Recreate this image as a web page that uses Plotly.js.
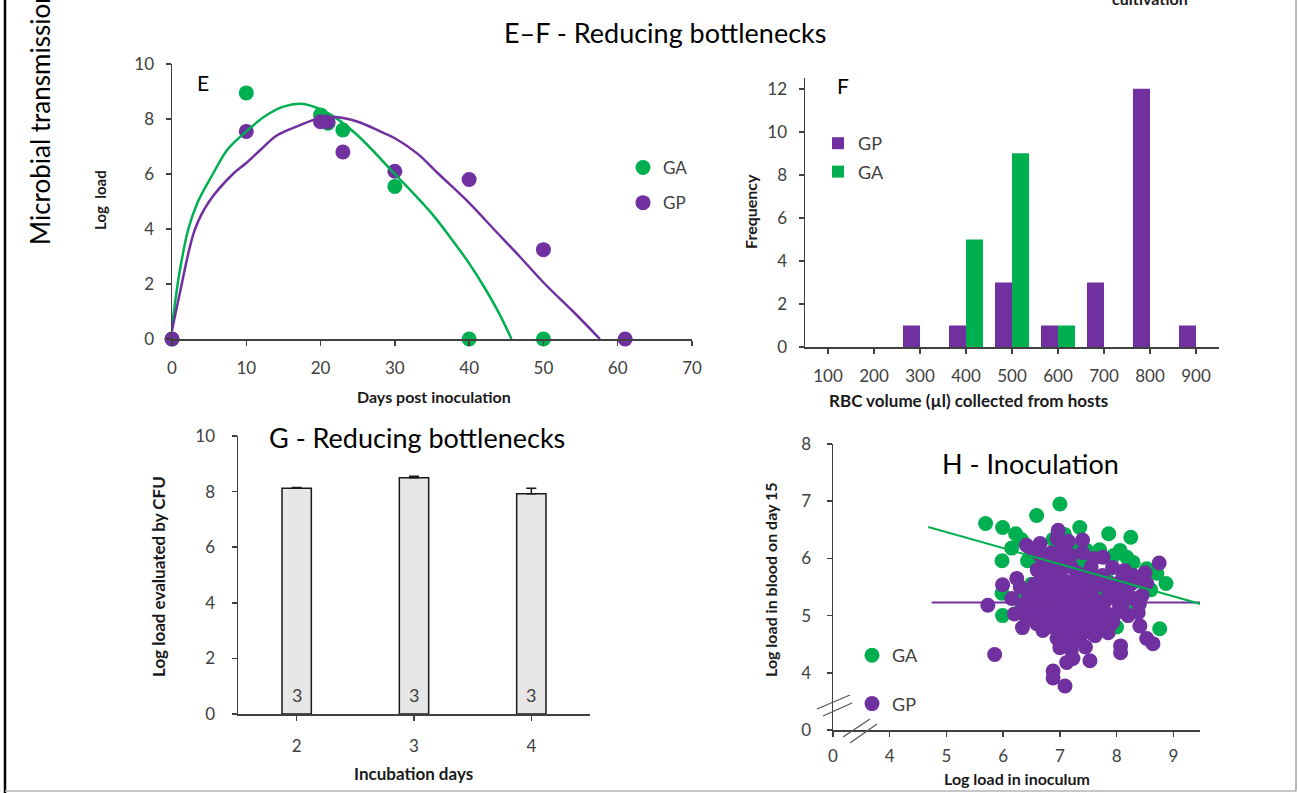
<!DOCTYPE html>
<html>
<head>
<meta charset="utf-8">
<script src="https://cdn.plot.ly/plotly-3.0.1.min.js"></script>
<style>html,body{margin:0;padding:0;background:#fff;}#chart{width:1298px;height:793px;}</style>
</head>
<body>
<div id="chart"></div>
<script>
// ---------- Panel E : log load vs days post inoculation ----------
const eGaDays = [0, 10, 20, 21, 23, 30, 40, 50];
const eGaLoad = [0, 8.95, 8.15, 7.85, 7.6, 5.55, 0, 0];
const eGpDays = [0, 10, 20, 21, 23, 30, 40, 50, 61];
const eGpLoad = [0, 7.55, 7.9, 7.9, 6.8, 6.1, 5.8, 3.25, 0];
// trend curves
const eGaTrendDays = [0, 1, 2.2, 3.5, 5.5, 7.5, 9.8, 12.5, 15, 17.4, 20, 22, 25, 30, 35, 38, 40, 42, 44, 45.7];
const eGaTrendLoad = [0.45, 2.4, 4.0, 5.0, 6.0, 6.9, 7.5, 8.1, 8.45, 8.55, 8.35, 8.05, 7.4, 6.0, 4.55, 3.5, 2.75, 1.9, 0.95, 0];
const eGpTrendDays = [0, 1, 3.1, 5, 8.2, 10, 12, 14.1, 17, 19.5, 22, 25, 28, 30, 33, 35.9, 40, 43.3, 46.8, 50.2, 54, 57.6];
const eGpTrendLoad = [0.3, 1.6, 4.0, 5.0, 6.0, 6.4, 6.9, 7.4, 7.75, 8.0, 8.07, 7.9, 7.55, 7.3, 6.75, 6.0, 4.95, 4.0, 3.0, 2.0, 1.0, 0];

// ---------- Panel F : RBC volume frequency ----------
const fVolumes = ['100', '200', '300', '400', '500', '600', '700', '800', '900'];
const fGpFreq = [0, 0, 1, 1, 3, 1, 3, 12, 1];
const fGaFreq = [0, 0, 0, 5, 9, 1, 0, 0, 0];

// ---------- Panel G : incubation days ----------
const gDays = ['2', '3', '4'];
const gLoad = [8.12, 8.5, 7.92];
const gErr = [0.03, 0.05, 0.2];
const gN = [3, 3, 3];

// ---------- Panel H : inoculation ----------
const hGaInoc = [5.69,5.99,6.59,7.00,7.35,7.86,8.25,6.22,6.32,6.15,5.98,6.43,6.59,6.88,7.08,7.18,7.47,7.58,7.70,8.06,8.18,8.29,8.53,8.71,8.87,8.76,5.98,5.99,6.29,6.30,6.35,7.00,6.98,7.93,8.00,8.20,7.53,7.85,7.25,6.75,6.50,7.95,8.40,8.12,6.80,7.40,7.70,6.50,6.60,8.35,7.60,7.30,6.95,8.60];
const hGaBlood = [6.61,6.54,6.75,6.95,6.54,6.43,6.37,6.43,6.33,6.18,5.96,5.96,5.88,6.33,6.42,6.25,6.14,6.05,6.15,6.14,6.02,5.93,5.82,5.74,5.56,4.77,5.39,5.00,5.05,5.25,5.45,5.03,4.90,4.91,4.80,5.30,5.61,5.60,5.85,6.05,6.12,6.05,5.60,5.50,5.70,5.95,5.35,5.55,5.20,5.10,4.95,6.10,6.15,5.45];
const hGpInoc = [5.85,5.73,5.99,6.24,6.20,6.34,6.15,6.41,6.65,6.97,7.40,8.75,8.53,8.38,8.41,8.53,8.64,8.07,8.07,7.53,7.35,7.09,6.88,6.88,7.12,7.23,7.00,7.12,6.70,6.59,7.62,7.93,7.76,7.93,8.14,8.29,6.50,6.85,7.05,6.95,7.20,7.10,6.75,6.60,6.55,6.70,6.65,6.55,6.80,6.75,6.90,6.90,6.95,7.05,7.00,7.10,7.15,7.20,7.25,7.30,7.35,7.30,7.40,7.45,7.50,7.55,7.45,7.60,7.65,7.70,7.70,7.80,7.85,7.80,7.95,8.00,8.05,8.10,8.15,8.20,8.25,8.30,8.45,8.50,8.40,7.15,7.25,7.00,6.85,7.55,7.85,6.30,6.35,6.40,6.45,6.45,6.80,7.40,7.60,6.65,7.15,7.05,6.95,7.20,7.35,6.60,7.50,7.75,8.00,8.35,7.45,7.20,6.95,
  6.70,6.80,6.85,6.95,7.00,7.05,7.10,7.15,7.20,7.25,7.30,7.35,7.40,7.45,7.50,7.55,7.60,7.65,6.75,6.85,7.00,7.05,7.25,7.45,7.60,7.90,8.05,8.20,8.10,7.75,6.60,6.95,7.20,7.10];
const hGpBlood = [4.32,5.18,5.54,5.65,5.03,4.79,5.30,6.23,6.26,6.49,6.32,5.92,5.56,5.05,4.82,4.60,4.51,4.47,4.35,4.21,4.56,3.77,4.03,3.91,4.18,4.25,4.44,4.51,4.74,4.86,4.65,4.88,6.02,5.84,5.79,5.70,6.15,6.10,6.20,6.35,6.05,5.90,5.95,5.80,5.55,5.50,5.30,5.10,5.20,4.95,5.40,5.65,5.85,5.45,5.20,5.00,4.85,5.30,5.60,5.75,5.40,5.10,4.90,5.20,5.50,5.85,5.65,5.30,5.05,4.85,5.55,5.25,5.45,5.05,5.35,5.55,5.20,5.65,5.40,5.00,5.55,5.30,5.35,5.75,5.20,4.70,4.75,4.70,4.80,4.70,4.70,5.50,5.20,5.00,5.35,4.95,5.75,6.10,6.00,6.05,6.30,6.00,5.05,5.15,4.70,4.95,5.00,5.70,5.05,5.65,4.45,4.40,4.60,
  5.65,5.45,5.30,5.55,5.75,5.35,5.60,5.15,5.45,5.00,5.55,5.25,5.70,5.40,5.20,5.45,5.65,5.20,5.10,4.95,5.10,4.85,4.95,5.05,4.85,5.55,5.45,5.70,5.15,5.15,5.40,5.95,5.85,6.10];
// regression lines
const hGaFitInoc = [4.68, 9.49];
const hGaFitBlood = [6.55, 5.2];
const hGpFitInoc = [4.74, 9.49];
const hGpFitBlood = [5.23, 5.23];
// broken axes: value 3 is labelled 0
const hXTickVals = [3, 4, 5, 6, 7, 8, 9];
const hXTickText = ['0', '4', '5', '6', '7', '8', '9'];
const hYTickVals = [3, 4, 5, 6, 7, 8];
const hYTickText = ['0', '4', '5', '6', '7', '8'];

// ---------- styling ----------
const GREEN = '#00B050', PURPLE = '#7030A0';
const FONT = 'Lato, "Open Sans", sans-serif';
const AX = '#404040';
const W = 1298, H = 793;
const px = v => v / W;
const py = v => 1 - v / H;

function axis(extra) {
  return Object.assign({
    showgrid: false, zeroline: false, showline: true, linecolor: AX, linewidth: 1.5,
    ticks: 'outside', ticklen: 5, tickwidth: 1.5, tickcolor: AX,
    tickfont: {family: FONT, size: 17, color: AX}, fixedrange: true
  }, extra);
}

const traces = [
  // E
  {type: 'scatter', mode: 'markers', name: 'GA', x: eGaDays, y: eGaLoad, xaxis: 'x', yaxis: 'y',
   marker: {color: GREEN, size: 15}, cliponaxis: false, legend: 'legend', legendgroup: 'eGA'},
  {type: 'scatter', mode: 'markers', name: 'GP', x: eGpDays, y: eGpLoad, xaxis: 'x', yaxis: 'y',
   marker: {color: PURPLE, size: 15}, cliponaxis: false, legend: 'legend', legendgroup: 'eGP'},
  {type: 'scatter', mode: 'lines', x: eGaTrendDays, y: eGaTrendLoad, xaxis: 'x', yaxis: 'y',
   line: {color: GREEN, width: 2.5, shape: 'spline', smoothing: 1}, showlegend: false, hoverinfo: 'skip'},
  {type: 'scatter', mode: 'lines', x: eGpTrendDays, y: eGpTrendLoad, xaxis: 'x', yaxis: 'y',
   line: {color: PURPLE, width: 2.5, shape: 'spline', smoothing: 1}, showlegend: false, hoverinfo: 'skip'},
  // F
  {type: 'bar', name: 'GP', x: fVolumes, y: fGpFreq, xaxis: 'x2', yaxis: 'y2',
   marker: {color: PURPLE, line: {width: 0}}, offset: -0.37, width: 0.37, legend: 'legend2', legendgroup: 'fGP'},
  {type: 'bar', name: 'GA', x: fVolumes, y: fGaFreq, xaxis: 'x2', yaxis: 'y2',
   marker: {color: GREEN, line: {width: 0}}, offset: 0, width: 0.37, legend: 'legend2', legendgroup: 'fGA'},
  // G
  {type: 'bar', x: gDays, y: gLoad, xaxis: 'x3', yaxis: 'y3', width: 0.25, showlegend: false,
   marker: {color: '#E7E7E7', line: {color: '#1a1a1a', width: 1.5}},
   error_y: {type: 'data', array: gErr, arrayminus: [0, 0, 0], symmetric: false, color: '#1a1a1a', thickness: 1.5, width: 5}},
  // H
  {type: 'scatter', mode: 'markers', name: 'GA', x: hGaInoc, y: hGaBlood, xaxis: 'x4', yaxis: 'y4',
   marker: {color: GREEN, size: 15}, legend: 'legend3', legendgroup: 'hGA'},
  {type: 'scatter', mode: 'markers', name: 'GP', x: hGpInoc, y: hGpBlood, xaxis: 'x4', yaxis: 'y4',
   marker: {color: PURPLE, size: 15}, legend: 'legend3', legendgroup: 'hGP'},
  {type: 'scatter', mode: 'lines', x: hGpFitInoc, y: hGpFitBlood, xaxis: 'x4', yaxis: 'y4',
   line: {color: PURPLE, width: 2}, showlegend: false, hoverinfo: 'skip', cliponaxis: false},
  {type: 'scatter', mode: 'lines', x: hGaFitInoc, y: hGaFitBlood, xaxis: 'x4', yaxis: 'y4',
   line: {color: GREEN, width: 2}, showlegend: false, hoverinfo: 'skip', cliponaxis: false}
];

function txt(text, x, y, size, opts) {
  return Object.assign({
    text: text, xref: 'paper', yref: 'paper', x: px(x), y: py(y), showarrow: false,
    xanchor: 'center', yanchor: 'middle', font: {family: FONT, size: size, color: '#000'}
  }, opts || {});
}
const bold = (s, c) => ({family: FONT, size: s, color: c || '#1a1a1a', weight: 'bold'});

const annotations = [
  txt('Microbial transmission', 40, 247, 26, {textangle: -90, yanchor: 'bottom', font: {family: FONT, size: 26, color: '#000'}}),
  txt('cultivation', 1150, 10, 16, {yanchor: 'bottom', font: bold(16)}),
  txt('E–F - Reducing bottlenecks', 665, 32, 27),
  txt('E', 203, 82, 21),
  txt('F', 843, 85, 21),
  txt('G - Reducing bottlenecks', 417, 437, 27),
  txt('H - Inoculation', 1030, 463, 27),
  // axis titles
  txt('Log  load', 100, 200, 15, {textangle: -90, font: bold(15)}),
  txt('Days post inoculation', 434, 396, 16, {font: bold(16)}),
  txt('Frequency', 750, 212, 16, {textangle: -90, font: bold(16)}),
  txt('RBC volume (µl) collected from hosts', 968, 400, 17, {font: bold(17)}),
  txt('Log load evaluated by CFU', 158, 577, 17, {textangle: -90, font: bold(17)}),
  txt('Incubation days', 413, 773, 17, {font: bold(17)}),
  txt('Log load in blood on day 15', 770, 580, 16, {textangle: -90, font: bold(16)}),
  txt('Log load in inoculum', 1017, 778, 16, {font: bold(16)})
];
// counts inside G bars (category index positions)
gN.forEach((n, i) => annotations.push({
  text: String(n), xref: 'x3', yref: 'y3', x: i, y: 0.68, showarrow: false,
  font: {family: FONT, size: 18, color: AX}
}));

const line = (x0, y0, x1, y1, color, w) => ({type: 'line', xref: 'paper', yref: 'paper',
  x0: px(x0), y0: py(y0), x1: px(x1), y1: py(y1), line: {color: color, width: w}});

const shapes = [
  line(5, 0, 5, 793, '#000', 2.5),
  line(5, 791, 1296, 791, '#b5b5b5', 1.5),
  line(1296, 0, 1296, 791, '#a0a0a0', 1.5),
  // break marks on panel H axes
  line(817, 709, 850, 695, '#555', 1.2),
  line(823, 716, 852, 703, '#555', 1.2),
  line(843, 737, 870, 719, '#555', 1.2),
  line(850, 743, 877, 724, '#555', 1.2)
];

const legendBase = {bgcolor: 'rgba(0,0,0,0)', traceorder: 'grouped', xanchor: 'left', yanchor: 'top',
  font: {family: FONT, size: 17, color: AX}, itemclick: false, itemdoubleclick: false};

const layout = {
  width: W, height: H, margin: {l: 0, r: 0, t: 0, b: 0},
  paper_bgcolor: '#fff', plot_bgcolor: 'rgba(0,0,0,0)',
  barmode: 'group', showlegend: true, font: {family: FONT},
  xaxis: axis({domain: [px(172), px(692)], range: [0, 70], dtick: 10, anchor: 'y', ticklabelstandoff: 8}),
  yaxis: axis({domain: [py(339), py(64)], range: [0, 10], dtick: 2, anchor: 'x', ticklabelstandoff: 8}),
  xaxis2: axis({domain: [px(805), px(1219)], type: 'category', range: [-0.5, 8.5], anchor: 'y2', ticklabelstandoff: 8}),
  yaxis2: axis({domain: [py(347), py(78)], range: [0, 12.5], tickvals: [0, 2, 4, 6, 8, 10, 12], anchor: 'x2', ticklabelstandoff: 8}),
  xaxis3: axis({domain: [px(238), px(590)], type: 'category', range: [-0.5, 2.5], anchor: 'y3', ticklabelstandoff: 11}),
  yaxis3: axis({domain: [py(714), py(436)], range: [0, 10], dtick: 2, anchor: 'x3', ticklabelstandoff: 13}),
  xaxis4: axis({domain: [px(833), px(1200)], range: [3, 9.47], tickvals: hXTickVals, ticktext: hXTickText, anchor: 'y4', ticklabelstandoff: 5}),
  yaxis4: axis({domain: [py(730), py(444)], range: [3, 8], tickvals: hYTickVals, ticktext: hYTickText, anchor: 'x4', ticklabelstandoff: 12}),
  legend: Object.assign({}, legendBase, {x: px(623), y: py(150), tracegroupgap: 10}),
  legend2: Object.assign({}, legendBase, {x: px(818), y: py(125), tracegroupgap: 2, font: {family: FONT, size: 18, color: AX}}),
  legend3: Object.assign({}, legendBase, {x: px(852), y: py(637), tracegroupgap: 22, font: {family: FONT, size: 18, color: AX}}),
  annotations: annotations,
  shapes: shapes
};

Plotly.newPlot('chart', traces, layout, {staticPlot: true, displayModeBar: false});
</script>
</body>
</html>
